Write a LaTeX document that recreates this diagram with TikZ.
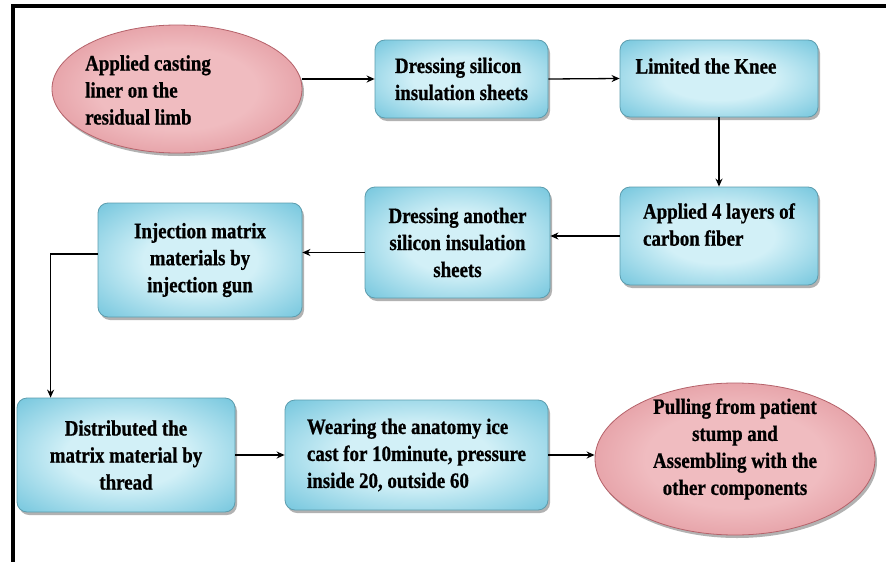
\documentclass[tikz,border=0pt]{standalone}
\usepackage{fontspec}
\setmainfont{Liberation Serif}[FakeStretch=0.86, BoldFeatures={FakeBold=0.8}]
\usetikzlibrary{shapes.geometric,shadows,arrows.meta,calc}
\definecolor{boxlight}{HTML}{D2F0F7}
\definecolor{boxdark}{HTML}{48B2D1}
\definecolor{boxborder}{HTML}{5C9DAE}
\definecolor{elllight}{HTML}{F0BCC0}
\definecolor{elldark}{HTML}{CF6670}
\definecolor{ellborder}{HTML}{B5626A}
\pgfdeclareradialshading{boxshade}{\pgfpoint{0bp}{0bp}}{color(0bp)=(boxlight); color(14bp)=(boxlight); color(46bp)=(boxdark); color(100bp)=(boxdark)}
\pgfdeclareradialshading{ellshade}{\pgfpoint{0bp}{0bp}}{color(0bp)=(elllight); color(16bp)=(elllight); color(50bp)=(elldark); color(100bp)=(elldark)}
\begin{document}
\begin{tikzpicture}[x=1pt,y=-1pt,
  txt/.style={font=\bfseries\fontsize{22}{27}\selectfont},
  box/.style={rectangle, rounded corners=10pt, draw=boxborder, line width=0.8pt,
    shade, shading=boxshade, txt, inner sep=4pt,
    drop shadow={shadow xshift=2pt, shadow yshift=-3pt, fill=black, opacity=0.3}},
  ell/.style={ellipse, draw=ellborder, line width=0.8pt, shade, shading=ellshade, inner sep=0pt,
    drop shadow={shadow xshift=2pt, shadow yshift=-3pt, fill=black, opacity=0.3}},
  arr/.style={draw=black, line width=1.3pt, -{Stealth[length=8pt,width=7pt]}}
]
\useasboundingbox (0,0) rectangle (886,562);
\fill[white] (0,0) rectangle (886,562);
\draw[line width=3.5pt] (886,6) -- (13,6) -- (13,562);

\node[ell, minimum width=250pt, minimum height=128pt] (liner) at (177,89) {};
\node[txt, anchor=west, align=left, inner sep=0pt] (linertext) at (85,90) {Applied casting\\liner on the\\residual limb};

\node[box, minimum width=173pt, minimum height=78pt, align=left] (dress1) at (461.5,79) {Dressing silicon\\insulation sheets};
\node[box, minimum width=198pt, minimum height=77pt, align=left] (knee) at (719,78.5) {Limited the Knee\hspace*{26pt}\\[-10pt]\strut};
\node[box, minimum width=198pt, minimum height=98pt, align=left] (carbon) at (719,236) {Applied 4 layers of\\carbon fiber\\[-12pt]\strut};
\node[box, minimum width=185pt, minimum height=111pt, align=center] (dress2) at (457.5,242.5) {Dressing another\\silicon insulation\\sheets};
\node[box, minimum width=204pt, minimum height=114pt, align=center] (inject) at (200,260) {Injection matrix\\materials by\\injection gun};
\node[box, minimum width=218pt, minimum height=114pt, align=center] (distrib) at (126,455) {Distributed the\\matrix material by\\thread};
\node[box, minimum width=263pt, minimum height=110pt, align=left] (wear) at (416.5,455) {Wearing the anatomy ice\\cast for 10minute, pressure\\inside 20, outside 60};

\node[ell, minimum width=280pt, minimum height=152pt] (pull) at (735,459) {};
\node[txt, align=center, inner sep=0pt] (pulltext) at (735,449) {Pulling from patient\\stump and\\Assembling with the\\other components};

\draw[arr] (dress1.west -| liner.east) -- (dress1.west);
\draw[arr] (dress1.east) -- (knee.west);
\draw[arr] (knee.south) -- (carbon.north);
\draw[arr] (carbon.west) -- (carbon.west -| dress2.east);
\draw[arr] ([yshift=-10pt]dress2.west) -- ([yshift=-10pt]dress2.west -| inject.east);
\draw[arr] ([yshift=6pt]inject.west) -| ([xshift=34pt]distrib.north west);
\draw[arr] (distrib.east) -- (wear.west);
\draw[arr] (wear.east) -- (wear.east -| pull.west);
\end{tikzpicture}
\end{document}
